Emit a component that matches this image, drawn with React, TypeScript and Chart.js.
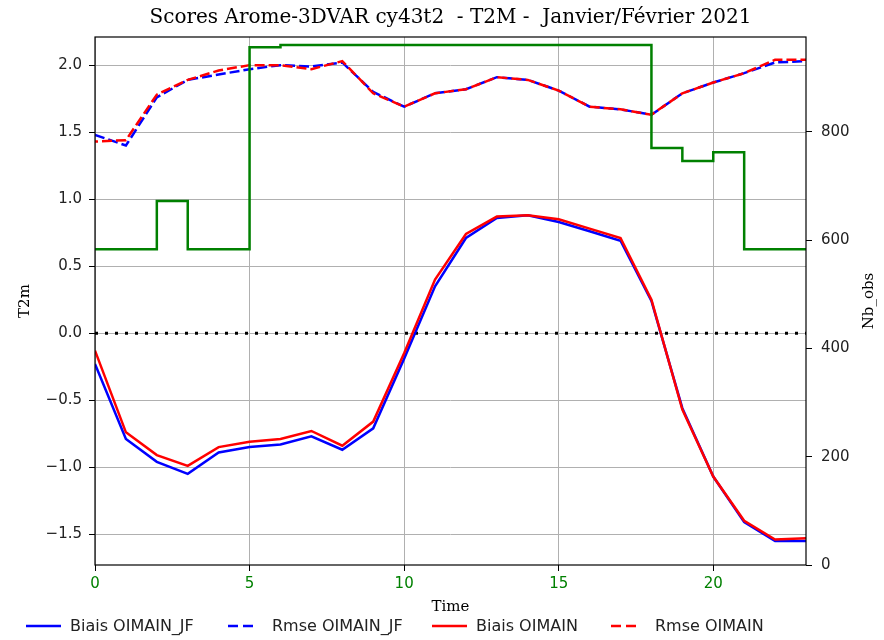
import React, { useEffect, useRef } from 'react';
import { Chart, registerables } from 'chart.js';

Chart.register(...registerables);

const TITLE = 'Scores Arome-3DVAR cy43t2  - T2M -  Janvier/Février 2021';
const times = [0, 1, 2, 3, 4, 5, 6, 7, 8, 9, 10, 11, 12, 13, 14, 15, 16, 17, 18, 19, 20, 21, 22, 23];
const biaisJF = [-0.23, -0.79, -0.96, -1.05, -0.89, -0.85, -0.83, -0.77, -0.87, -0.71, -0.19, 0.35, 0.71, 0.86, 0.88, 0.83, 0.76, 0.69, 0.24, -0.56, -1.07, -1.41, -1.55, -1.55];
const rmseJF = [1.48, 1.40, 1.76, 1.89, 1.93, 1.97, 2.0, 1.99, 2.02, 1.8, 1.69, 1.79, 1.82, 1.91, 1.89, 1.81, 1.69, 1.67, 1.63, 1.79, 1.87, 1.94, 2.02, 2.03];
const biais = [-0.13, -0.74, -0.91, -0.99, -0.85, -0.81, -0.79, -0.73, -0.84, -0.66, -0.15, 0.4, 0.74, 0.87, 0.88, 0.85, 0.78, 0.71, 0.25, -0.57, -1.07, -1.4, -1.54, -1.53];
const rmse = [1.43, 1.44, 1.78, 1.89, 1.96, 2.0, 2.0, 1.97, 2.03, 1.79, 1.69, 1.79, 1.82, 1.91, 1.89, 1.81, 1.69, 1.67, 1.63, 1.79, 1.87, 1.94, 2.04, 2.04];
const nbObs = [583, 583, 672, 583, 583, 956, 960, 960, 960, 960, 960, 960, 960, 960, 960, 960, 960, 960, 770, 746, 762, 583, 583, 583];
const rightTicks = [0, 200, 400, 600, 800];
const legendLabels = ['Biais OIMAIN_JF', 'Rmse OIMAIN_JF', 'Biais OIMAIN', 'Rmse OIMAIN'];
const legendColors = ['#0000ff', '#0000ff', '#ff0000', '#ff0000'];
const legendDashed = [false, true, false, true];

const pts = (arr: number[]) => times.map((t, i) => ({ x: t, y: arr[i] }));

const extras = {
  id: 'extras',
  afterDatasetsDraw(chart: any) {
    const { ctx, chartArea } = chart;
    const { left, right, top, bottom } = chartArea;
    ctx.save();
    ctx.strokeStyle = '#000';
    ctx.lineWidth = 1.2;
    ctx.strokeRect(left, top, right - left, bottom - top);
    ctx.restore();
  },
  afterDraw(chart: any) {
    const { ctx, chartArea } = chart;
    const { left, right, top, bottom } = chartArea;
    ctx.save();
    // title
    ctx.fillStyle = '#000';
    ctx.font = '20px "DejaVu Serif"';
    ctx.textAlign = 'center';
    ctx.textBaseline = 'alphabetic';
    ctx.fillText(TITLE, (left + right) / 2, 23);
    // right axis title
    ctx.save();
    ctx.translate(869, (top + bottom) / 2);
    ctx.rotate(-Math.PI / 2);
    ctx.font = '15px "DejaVu Serif"';
    ctx.textBaseline = 'middle';
    ctx.textAlign = 'center';
    ctx.fillText('Nb_obs', 0, 0);
    ctx.restore();
    // legend
    const starts = [26, 228, 432, 611];
    const y = 626;
    ctx.font = '16px "DejaVu Sans"';
    ctx.textAlign = 'left';
    ctx.textBaseline = 'middle';
    legendLabels.forEach((lab, i) => {
      const x0 = starts[i];
      ctx.strokeStyle = legendColors[i];
      ctx.lineWidth = 2.5;
      ctx.setLineDash(legendDashed[i] ? [10, 5] : []);
      ctx.beginPath();
      ctx.moveTo(x0, y);
      ctx.lineTo(x0 + (legendDashed[i] ? 26 : 35), y);
      ctx.stroke();
      ctx.setLineDash([]);
      ctx.fillStyle = '#222';
      ctx.fillText(lab, x0 + 44, y + 1);
    });
    ctx.restore();
  },
};

export default function App() {
  const ref = useRef<HTMLCanvasElement>(null);
  useEffect(() => {
    if (!ref.current) return;
    const tickFont = { family: 'DejaVu Sans', size: 15 };
    const chart = new Chart(ref.current, {
      type: 'line',
      data: {
        datasets: [
          {
            label: 'Nb_obs',
            data: pts(nbObs),
            yAxisID: 'y2',
            borderColor: '#008000',
            borderWidth: 2.5,
            stepped: 'before',
            pointRadius: 0,
            fill: false,
          },
          {
            label: legendLabels[3],
            data: pts(rmse),
            yAxisID: 'y',
            borderColor: '#ff0000',
            borderWidth: 2.5,
            borderDash: [10, 4],
            borderDashOffset: 7,
            pointRadius: 0,
            tension: 0,
          },
          {
            label: legendLabels[2],
            data: pts(biais),
            yAxisID: 'y',
            borderColor: '#ff0000',
            borderWidth: 2.5,
            pointRadius: 0,
          },
          {
            label: legendLabels[1],
            data: pts(rmseJF),
            yAxisID: 'y',
            borderColor: '#0000ff',
            borderWidth: 2.5,
            borderDash: [10, 4],
            pointRadius: 0,
          },
          {
            label: legendLabels[0],
            data: pts(biaisJF),
            yAxisID: 'y',
            borderColor: '#0000ff',
            borderWidth: 2.5,
            pointRadius: 0,
          },
          {
            label: 'zero',
            data: [{ x: 0, y: 0 }, { x: 23, y: 0 }],
            yAxisID: 'y',
            borderColor: '#000',
            borderWidth: 3,
            borderDash: [3, 7],
            pointRadius: 0,
          },
        ],
      },
      options: {
        responsive: false,
        animation: false,
        devicePixelRatio: 1,
        layout: { padding: { left: 0, right: 0, top: 37, bottom: 0 } },
        plugins: {
          legend: { display: false },
          title: { display: false },
          tooltip: { enabled: false },
        },
        scales: {
          x: {
            type: 'linear',
            position: 'bottom',
            min: 0,
            max: 23,
            afterFit: (s: any) => { s.height = 75; },
            border: { display: false },
            grid: { color: '#b0b0b0', lineWidth: 1, drawTicks: true, tickLength: 6, tickColor: '#000', tickWidth: 1 },
            ticks: { stepSize: 5, includeBounds: false, color: '#008000', font: tickFont, padding: 4, maxRotation: 0 },
            title: { display: true, text: 'Time', color: '#000', font: { family: 'DejaVu Serif', size: 15 }, padding: { top: 0, bottom: 24 } },
          },
          y: {
            type: 'linear',
            position: 'left',
            min: -1.73,
            max: 2.21,
            afterFit: (s: any) => { s.width = 95; },
            border: { display: false },
            grid: { color: '#b0b0b0', lineWidth: 1, drawTicks: true, tickLength: 6, tickColor: '#000', tickWidth: 1 },
            ticks: {
              stepSize: 0.5,
              includeBounds: false,
              color: '#222',
              font: tickFont,
              padding: 7,
              callback: (v: any) => (v < 0 ? '\u2212' : '') + Math.abs(Number(v)).toFixed(1),
            },
            title: { display: true, text: 'T2m', color: '#000', font: { family: 'DejaVu Serif', size: 15 }, padding: { top: 16, bottom: 0 } },
          },
          y2: {
            type: 'linear',
            position: 'right',
            min: 0,
            max: 975,
            afterFit: (s: any) => { s.width = 78; },
            afterBuildTicks: (s: any) => { s.ticks = rightTicks.map((v) => ({ value: v })); },
            border: { display: false },
            grid: { drawOnChartArea: false, drawTicks: true, tickLength: 6, tickColor: '#000', tickWidth: 1 },
            ticks: { color: '#222', font: tickFont, padding: 9 },
            title: { display: false },
          },
        },
      },
      plugins: [extras],
    });
    return () => chart.destroy();
  }, []);
  return (
    <div style={{ position: 'absolute', left: 0, top: 0, width: 884, height: 640, background: '#fff' }}>
      <canvas ref={ref} width={884} height={640} style={{ display: 'block' }} />
    </div>
  );
}
